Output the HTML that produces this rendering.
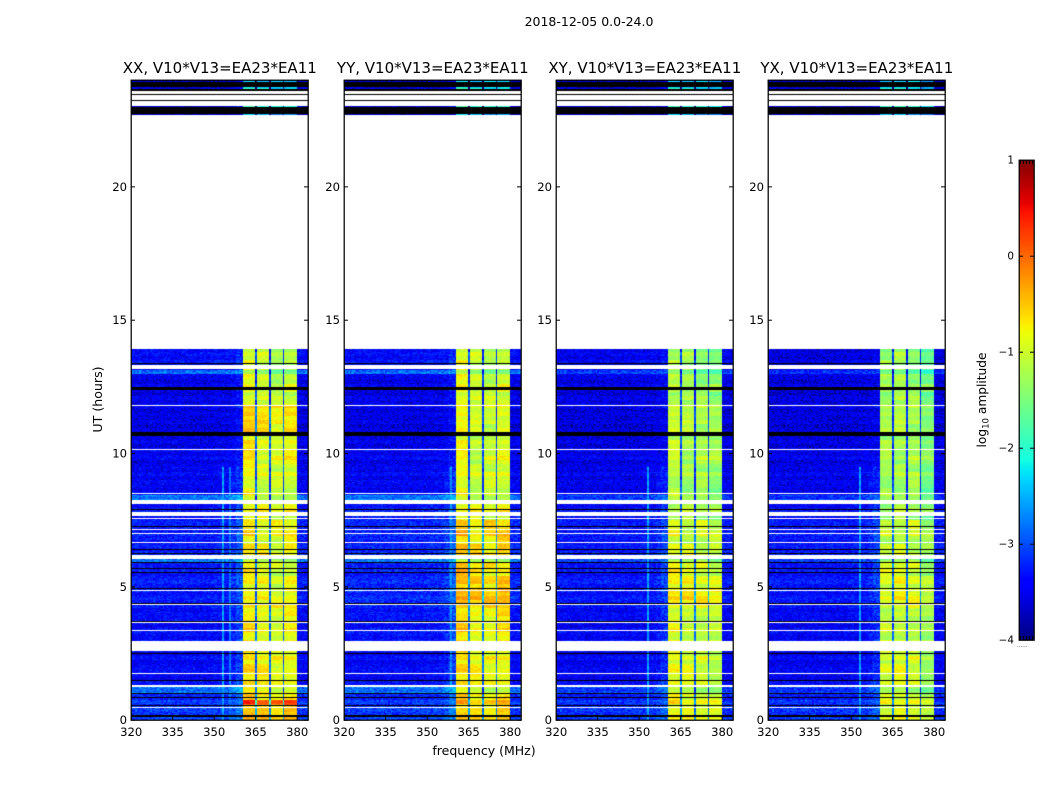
<!DOCTYPE html>
<html>
<head>
<meta charset="utf-8">
<title>2018-12-05 0.0-24.0</title>
<style>
  html, body { margin: 0; padding: 0; background: #fff; }
  #figure { position: relative; width: 1050px; height: 800px; overflow: hidden; background: #fff; }
  canvas { position: absolute; display: block; }
  svg { position: absolute; left: 0; top: 0; }
  text { font-family: "DejaVu Sans", "Liberation Sans", sans-serif; fill: #000; }
</style>
</head>
<body>
<div id="figure">
  <svg id="overlay" width="1050" height="800">
    <text x="589" y="26" text-anchor="middle" font-size="12.5">2018-12-05 0.0-24.0</text>
    <text x="484" y="755" text-anchor="middle" font-size="12.5">frequency (MHz)</text>
    <text transform="translate(102,399.5) rotate(-90)" text-anchor="middle" font-size="12.6">UT (hours)</text>
    <text transform="translate(986,400) rotate(-90)" text-anchor="middle" font-size="12.2">log<tspan font-size="8.6" dy="2.5">10</tspan><tspan dy="-2.5"> amplitude</tspan></text>
  </svg>
</div>
<script>
/* ---------- chart data ---------- */
const polarizations = ['XX', 'YY', 'XY', 'YX'];
const panelTitleSuffix = ', V10*V13=EA23*EA11';
const xTickLabels = [320, 335, 350, 365, 380];
const yTickLabels = [0, 5, 10, 15, 20];
const colorbarTickLabels = [1, 0, -1, -2, -3, -4];

/* frequency groups (MHz edges) and how each group relates to the time-segment level */
const freqEdges = [320, 350, 356, 358, 360.5, 365, 365.5, 370, 370.5, 375, 375.5, 380, 384];
const freqGroupKind = ['bg', 'bg', 'bg', 'bg', 'band', 'dip', 'band', 'dip', 'band', 'dip', 'band', 'bg'];
const freqOffsetXX = [0, 0.03, 0.06, 0.18, 0.12, -2.0, 0, -2.1, -0.12, -2.1, 0, 0];
const freqOffsetYY = [0, 0.03, 0.06, 0.18, 0.12, -2.0, -0.05, -2.1, -0.1, -2.1, 0.02, 0];
const freqOffsetXY = [0, 0.03, 0.05, 0.12, 0.1, -1.8, 0.02, -1.9, -0.05, -1.9, -0.1, 0];
const freqOffsetYX = [0, 0.03, 0.05, 0.1, 0.02, -1.8, 0.1, -1.9, 0.02, -1.9, -0.2, 0];
/* extra level per frequency group below about 9.5 hours, where the shoulder lifts */
const lowHourBoost = [0, 0, 0.08, 0.15, 0, 0, 0, 0, 0, 0, 0, 0];

/* time segments in hours; anything outside them has no data and stays white */
const segmentStart = [0, 0.55, 0.75, 1.0, 1.3, 3.0, 4.4, 5.0, 5.9, 6.1, 7.5, 8.24, 8.42, 9.5, 10.8, 11.8, 12.98, 13.12, 22.69, 22.97, 23.655, 23.925];
const segmentEnd = [0.55, 0.75, 1.0, 1.3, 3.0, 4.4, 5.0, 5.9, 6.1, 7.5, 8.24, 8.42, 9.5, 10.8, 11.8, 12.98, 13.12, 13.9, 22.72, 23.02, 23.73, 24];
const bgLevelXX = [-3.1, -3.15, -3.25, -2.8, -3.42, -3.38, -3.3, -3.3, -2.8, -3.3, -3.38, -2.8, -3.45, -3.5, -3.55, -3.52, -2.85, -3.4, -3.7, -3.6, -3.65, -3.75];
const bgLevelYY = [-3.1, -3.15, -3.25, -2.8, -3.42, -3.33, -3.2, -3.25, -2.8, -3.25, -3.33, -2.8, -3.45, -3.5, -3.55, -3.52, -2.85, -3.4, -3.7, -3.6, -3.65, -3.75];
const bgLevelXY = [-3.15, -3.2, -3.3, -3.05, -3.47, -3.42, -3.33, -3.33, -3.05, -3.33, -3.42, -3.1, -3.5, -3.55, -3.6, -3.55, -3.1, -3.5, -3.7, -3.6, -3.65, -3.75];
const bgLevelYX = [-3.15, -3.2, -3.3, -3.1, -3.47, -3.42, -3.33, -3.33, -3.1, -3.33, -3.42, -3.15, -3.5, -3.55, -3.6, -3.6, -3.2, -3.6, -3.7, -3.6, -3.65, -3.75];
const bandLevelXX = [-0.55, 0.0, -0.75, -0.85, -0.8, -0.8, -0.85, -0.9, -1.2, -0.8, -0.85, -1.2, -0.95, -0.88, -0.72, -1.05, -1.55, -1.1, -2.5, -2.0, -2.3, -2.5];
const bandLevelYY = [-0.65, -0.6, -0.75, -1.0, -0.8, -0.7, -0.45, -0.6, -1.2, -0.6, -0.85, -1.2, -0.95, -1.0, -1.0, -1.0, -1.5, -1.05, -2.4, -1.95, -2.2, -2.4];
const bandLevelXY = [-0.9, -0.9, -1.0, -1.2, -1.0, -1.0, -0.7, -0.9, -1.3, -1.0, -1.2, -1.3, -1.25, -1.2, -1.2, -1.3, -1.7, -1.35, -2.5, -2.0, -2.3, -2.5];
const bandLevelYX = [-1.0, -1.0, -1.1, -1.3, -1.05, -1.1, -0.9, -1.0, -1.4, -1.1, -1.3, -1.4, -1.3, -1.3, -1.3, -1.35, -1.8, -1.4, -2.5, -2.0, -2.3, -2.5];

/* flagged rows, as [start hour, end hour] */
const blackRows = [[0.13, 0.17], [0.52, 0.56], [0.82, 0.86], [0.97, 1.01], [1.45, 1.49], [2.48, 2.52], [3.68, 3.72], [4.34, 4.39], [4.9, 4.94], [5.5, 5.54], [5.65, 5.71], [5.9, 5.94], [6.23, 6.27], [6.38, 6.42], [7.25, 7.29], [7.88, 7.92], [10.64, 10.8], [12.39, 12.47], [13.35, 13.39], [22.72, 22.97], [23.45, 23.48], [23.215, 23.25], [23.6, 23.655], [23.73, 23.925]];
const whiteRows = [[0.44, 0.48], [1.25, 1.33], [1.71, 1.75], [2.57, 2.95], [3.32, 3.36], [3.62, 3.66], [4.31, 4.35], [4.82, 4.86], [6.05, 6.18], [6.65, 6.69], [6.98, 7.02], [7.11, 7.15], [7.52, 7.57], [7.66, 7.79], [8.1, 8.24], [8.48, 8.52], [10.11, 10.15], [11.76, 11.8], [13.15, 13.31]];

/* narrow interference channels seen in the lower half of each panel */
const rfiFreqsXX = [353.3, 355.9, 359];
const rfiFreqsYY = [340, 356.5, 358.6];
const rfiFreqsXY = [353.3, 356, 359];
const rfiFreqsYX = [353.3, 356, 359];
const rfiLevels = [-2.6, -2.8, -2.7];
const rfiTopHour = 9.5;

/* estimated cell-to-cell grain, a hand-written texture table (log10 units) */
const grain = [0.31, -0.22, 0.08, -0.41, 0.17, 0.44, -0.13, -0.35, 0.26, 0.02, -0.28, 0.38, -0.06, 0.21, -0.46, 0.12, 0.34, -0.18, -0.02, 0.41, -0.37, 0.15, -0.25, 0.05, 0.29, -0.44, 0.19, -0.09, 0.36, -0.31, 0.1, -0.16, 0.47, -0.04, -0.39, 0.24, 0.07, -0.27, 0.33, -0.12, -0.48, 0.22, 0.14, -0.2, 0.39, -0.33, 0.03, 0.27, -0.08, -0.42, 0.18, 0.45, -0.15, -0.3, 0.09, 0.25, -0.24, 0.35, -0.01, -0.38, 0.13, 0.42, -0.11, -0.29, 0.2, -0.47, 0.32, 0.06, -0.19, 0.4, -0.34, 0.11];
/* estimated row-to-row streaks */
const rowStreak = [0.06, -0.1, 0.14, 0.02, -0.16, 0.09, -0.04, 0.18, -0.12, 0.05, -0.07, 0.12, -0.18, 0.03, 0.16, -0.09, 0.07, -0.14, 0.1, -0.02, 0.19, -0.11, 0.04, -0.06, 0.13, -0.17, 0.08, 0.01, -0.13, 0.15, -0.05, 0.11, -0.08, 0.17, -0.15, 0.0, 0.1];

const offsetsByPol = [freqOffsetXX, freqOffsetYY, freqOffsetXY, freqOffsetYX];
const bgByPol = [bgLevelXX, bgLevelYY, bgLevelXY, bgLevelYX];
const bandByPol = [bandLevelXX, bandLevelYY, bandLevelXY, bandLevelYX];
const rfiByPol = [rfiFreqsXX, rfiFreqsYY, rfiFreqsXY, rfiFreqsYX];

/* ---------- layout ---------- */
const NS = 'http://www.w3.org/2000/svg';
const overlay = document.getElementById('overlay');
const figure = document.getElementById('figure');
const axesLefts = [131, 344, 556, 768];
const axesTop = 80, axesW = 177, axesH = 640;
const freqMin = 320, freqMax = 384, hourMin = 0, hourMax = 24, channels = 128, rows = 640;
const vMin = -4, vMax = 1;
const cbLeft = 1019, cbTop = 160, cbW = 15, cbH = 480;

function xScale(freq) { return (freq - freqMin) / (freqMax - freqMin) * axesW; }
function yScale(hour) { return (hourMax - hour) / (hourMax - hourMin) * axesH; }
function cbScale(value) { return (vMax - value) / (vMax - vMin) * cbH; }

function ramp(t, pts) {
  for (let i = 1; i < pts.length; i++) {
    if (t <= pts[i][0]) {
      const a = pts[i - 1], b = pts[i];
      return a[1] + (b[1] - a[1]) * (t - a[0]) / (b[0] - a[0]);
    }
  }
  return pts[pts.length - 1][1];
}
function jet(value) {
  const t = Math.max(0, Math.min(1, (value - vMin) / (vMax - vMin)));
  const r = ramp(t, [[0, 0], [0.35, 0], [0.66, 1], [0.89, 1], [1, 0.5]]);
  const g = ramp(t, [[0, 0], [0.125, 0], [0.375, 1], [0.64, 1], [0.91, 0], [1, 0]]);
  const b = ramp(t, [[0, 0.5], [0.11, 1], [0.34, 1], [0.65, 0], [1, 0]]);
  return 'rgb(' + Math.round(r * 255) + ',' + Math.round(g * 255) + ',' + Math.round(b * 255) + ')';
}
function groupOf(freq) {
  for (let i = 0; i < freqGroupKind.length; i++) {
    if (freq >= freqEdges[i] && freq < freqEdges[i + 1]) return i;
  }
  return freqGroupKind.length - 1;
}
function line(x1, y1, x2, y2) {
  const el = document.createElementNS(NS, 'line');
  el.setAttribute('x1', x1);
  el.setAttribute('y1', y1);
  el.setAttribute('x2', x2);
  el.setAttribute('y2', y2);
  el.setAttribute('stroke', '#000');
  el.setAttribute('stroke-width', '1');
  overlay.appendChild(el);
  return el;
}
function label(x, y, text, size, anchor) {
  const el = document.createElementNS(NS, 'text');
  el.setAttribute('x', x);
  el.setAttribute('y', y);
  el.setAttribute('font-size', size);
  el.setAttribute('text-anchor', anchor);
  el.textContent = text;
  overlay.appendChild(el);
  return el;
}
function frame(x, y, w, h) {
  const el = document.createElementNS(NS, 'rect');
  el.setAttribute('x', x);
  el.setAttribute('y', y);
  el.setAttribute('width', w);
  el.setAttribute('height', h);
  el.setAttribute('fill', 'none');
  el.setAttribute('stroke', '#000');
  el.setAttribute('stroke-width', '1.25');
  overlay.appendChild(el);
  return el;
}

/* ---------- heatmaps ---------- */
polarizations.forEach(function (pol, p) {
  const left = axesLefts[p];
  const canvas = document.createElement('canvas');
  canvas.width = axesW;
  canvas.height = axesH;
  canvas.style.left = left + 'px';
  canvas.style.top = axesTop + 'px';
  
  
  figure.insertBefore(canvas, overlay);
  const ctx = canvas.getContext('2d');
  ctx.fillStyle = '#fff';
  ctx.fillRect(0, 0, axesW, axesH);
  const chanW = (freqMax - freqMin) / channels;
  const rowH = (hourMax - hourMin) / rows;

  segmentStart.forEach(function (start, s) {
    const end = segmentEnd[s];
    const y0 = Math.round(yScale(end));
    const y1 = Math.round(yScale(start));
    for (let y = y0; y < y1; y++) {
      const hour = hourMax - (y + 0.5) * rowH;
      const streak = rowStreak[(y >> 2) % rowStreak.length];
      for (let c = 0; c < channels; c++) {
        const freq = freqMin + (c + 0.5) * chanW;
        const g = groupOf(freq);
        const kind = freqGroupKind[g];
        const tex = grain[(c * 11 + y * 23 + (c * y) % 7) % grain.length];
        let v;
        if (kind === 'bg') {
          v = bgByPol[p][s] + offsetsByPol[p][g] + streak * 0.5 + tex * 0.6;
          if (hour < rfiTopHour) v += lowHourBoost[g];
        } else {
          const patch = grain[((y >> 3) * 5 + g * 13) % grain.length];
          v = bandByPol[p][s] + offsetsByPol[p][g] + streak * 0.7 + tex * 0.28 + patch * 0.4;
        }
        if (hour < rfiTopHour) {
          rfiByPol[p].forEach(function (rf, k) {
            if (Math.abs(rf - freq) < chanW / 2) v = Math.max(v, rfiLevels[k] + tex * 0.4);
          });
        }
        const xa = Math.round(xScale(freq - chanW / 2));
        const xb = Math.round(xScale(freq + chanW / 2));
        ctx.fillStyle = jet(v);
        ctx.fillRect(xa, y, xb - xa, 1);
      }
    }
  });

  ctx.fillStyle = '#000';
  blackRows.forEach(function (r) {
    const y0 = Math.round(yScale(r[1]));
    const y1 = Math.max(y0 + 1, Math.round(yScale(r[0])));
    ctx.fillRect(0, y0, axesW, y1 - y0);
  });
  ctx.fillStyle = '#fff';
  whiteRows.forEach(function (r) {
    const y0 = Math.round(yScale(r[1]));
    const y1 = Math.max(y0 + 1, Math.round(yScale(r[0])));
    ctx.fillRect(0, y0, axesW, y1 - y0);
  });

  /* axes */
  const fr = frame(left + 0.2, axesTop + 0.2, axesW, axesH);
  
  

  const title = label(left + axesW / 2 + 0.3, 73, pol + panelTitleSuffix, 15, 'middle');
  
  

  xTickLabels.forEach(function (tick) {
    const x = left + xScale(tick) + 0.2;
    const bottomTick = line(x, axesTop + axesH, x, axesTop + axesH - 4);
    
    
    const topTick = line(x, axesTop, x, axesTop + 4);
    
    
    const t = label(x, axesTop + axesH + 16, String(tick), 11.6, 'middle');
    
    
  });
  yTickLabels.forEach(function (tick) {
    const y = axesTop + yScale(tick) + 0.2;
    const leftTick = line(left, y, left + 4, y);
    
    
    const rightTick = line(left + axesW, y, left + axesW - 4, y);
    
    
    const t = label(left - 4, y + 4, String(tick), 11.6, 'end');
    
    
  });
});

/* ---------- colorbar ---------- */
const cbCanvas = document.createElement('canvas');
cbCanvas.width = cbW;
cbCanvas.height = cbH;
cbCanvas.style.left = cbLeft + 'px';
cbCanvas.style.top = cbTop + 'px';


figure.insertBefore(cbCanvas, overlay);
const cbCtx = cbCanvas.getContext('2d');
for (let y = 0; y < cbH; y++) {
  cbCtx.fillStyle = jet(vMax - (y + 0.5) / cbH * (vMax - vMin));
  cbCtx.fillRect(0, y, cbW, 1);
}
const cbFrame = frame(cbLeft + 0.2, cbTop + 0.2, cbW, cbH);



colorbarTickLabels.forEach(function (tick) {
  const y = cbTop + cbScale(tick) + 0.2;
  if (tick !== vMax && tick !== vMin) {
    const a = line(cbLeft, y, cbLeft + 4, y);
    
    
    const b = line(cbLeft + cbW, y, cbLeft + cbW - 4, y);
    
    
  }
  const t = label(cbLeft - 5, y + 3.5, String(tick).replace('-', '\u2212'), 10.4, 'end');
  
  
});
[0.1, 0.3, 0.5, 0.7, 0.9].forEach(function (frac) {
  const x = cbLeft + cbW * frac;
  const a = line(x, cbTop, x, cbTop + 4);
  
  
  const b = line(x, cbTop + cbH, x, cbTop + cbH - 4);
  
  
});
const cbDots = label(cbLeft - 2, cbTop + cbH + 7, '......', 5.5, 'start');
cbDots.setAttribute('fill', '#777');


</script>
</body>
</html>
